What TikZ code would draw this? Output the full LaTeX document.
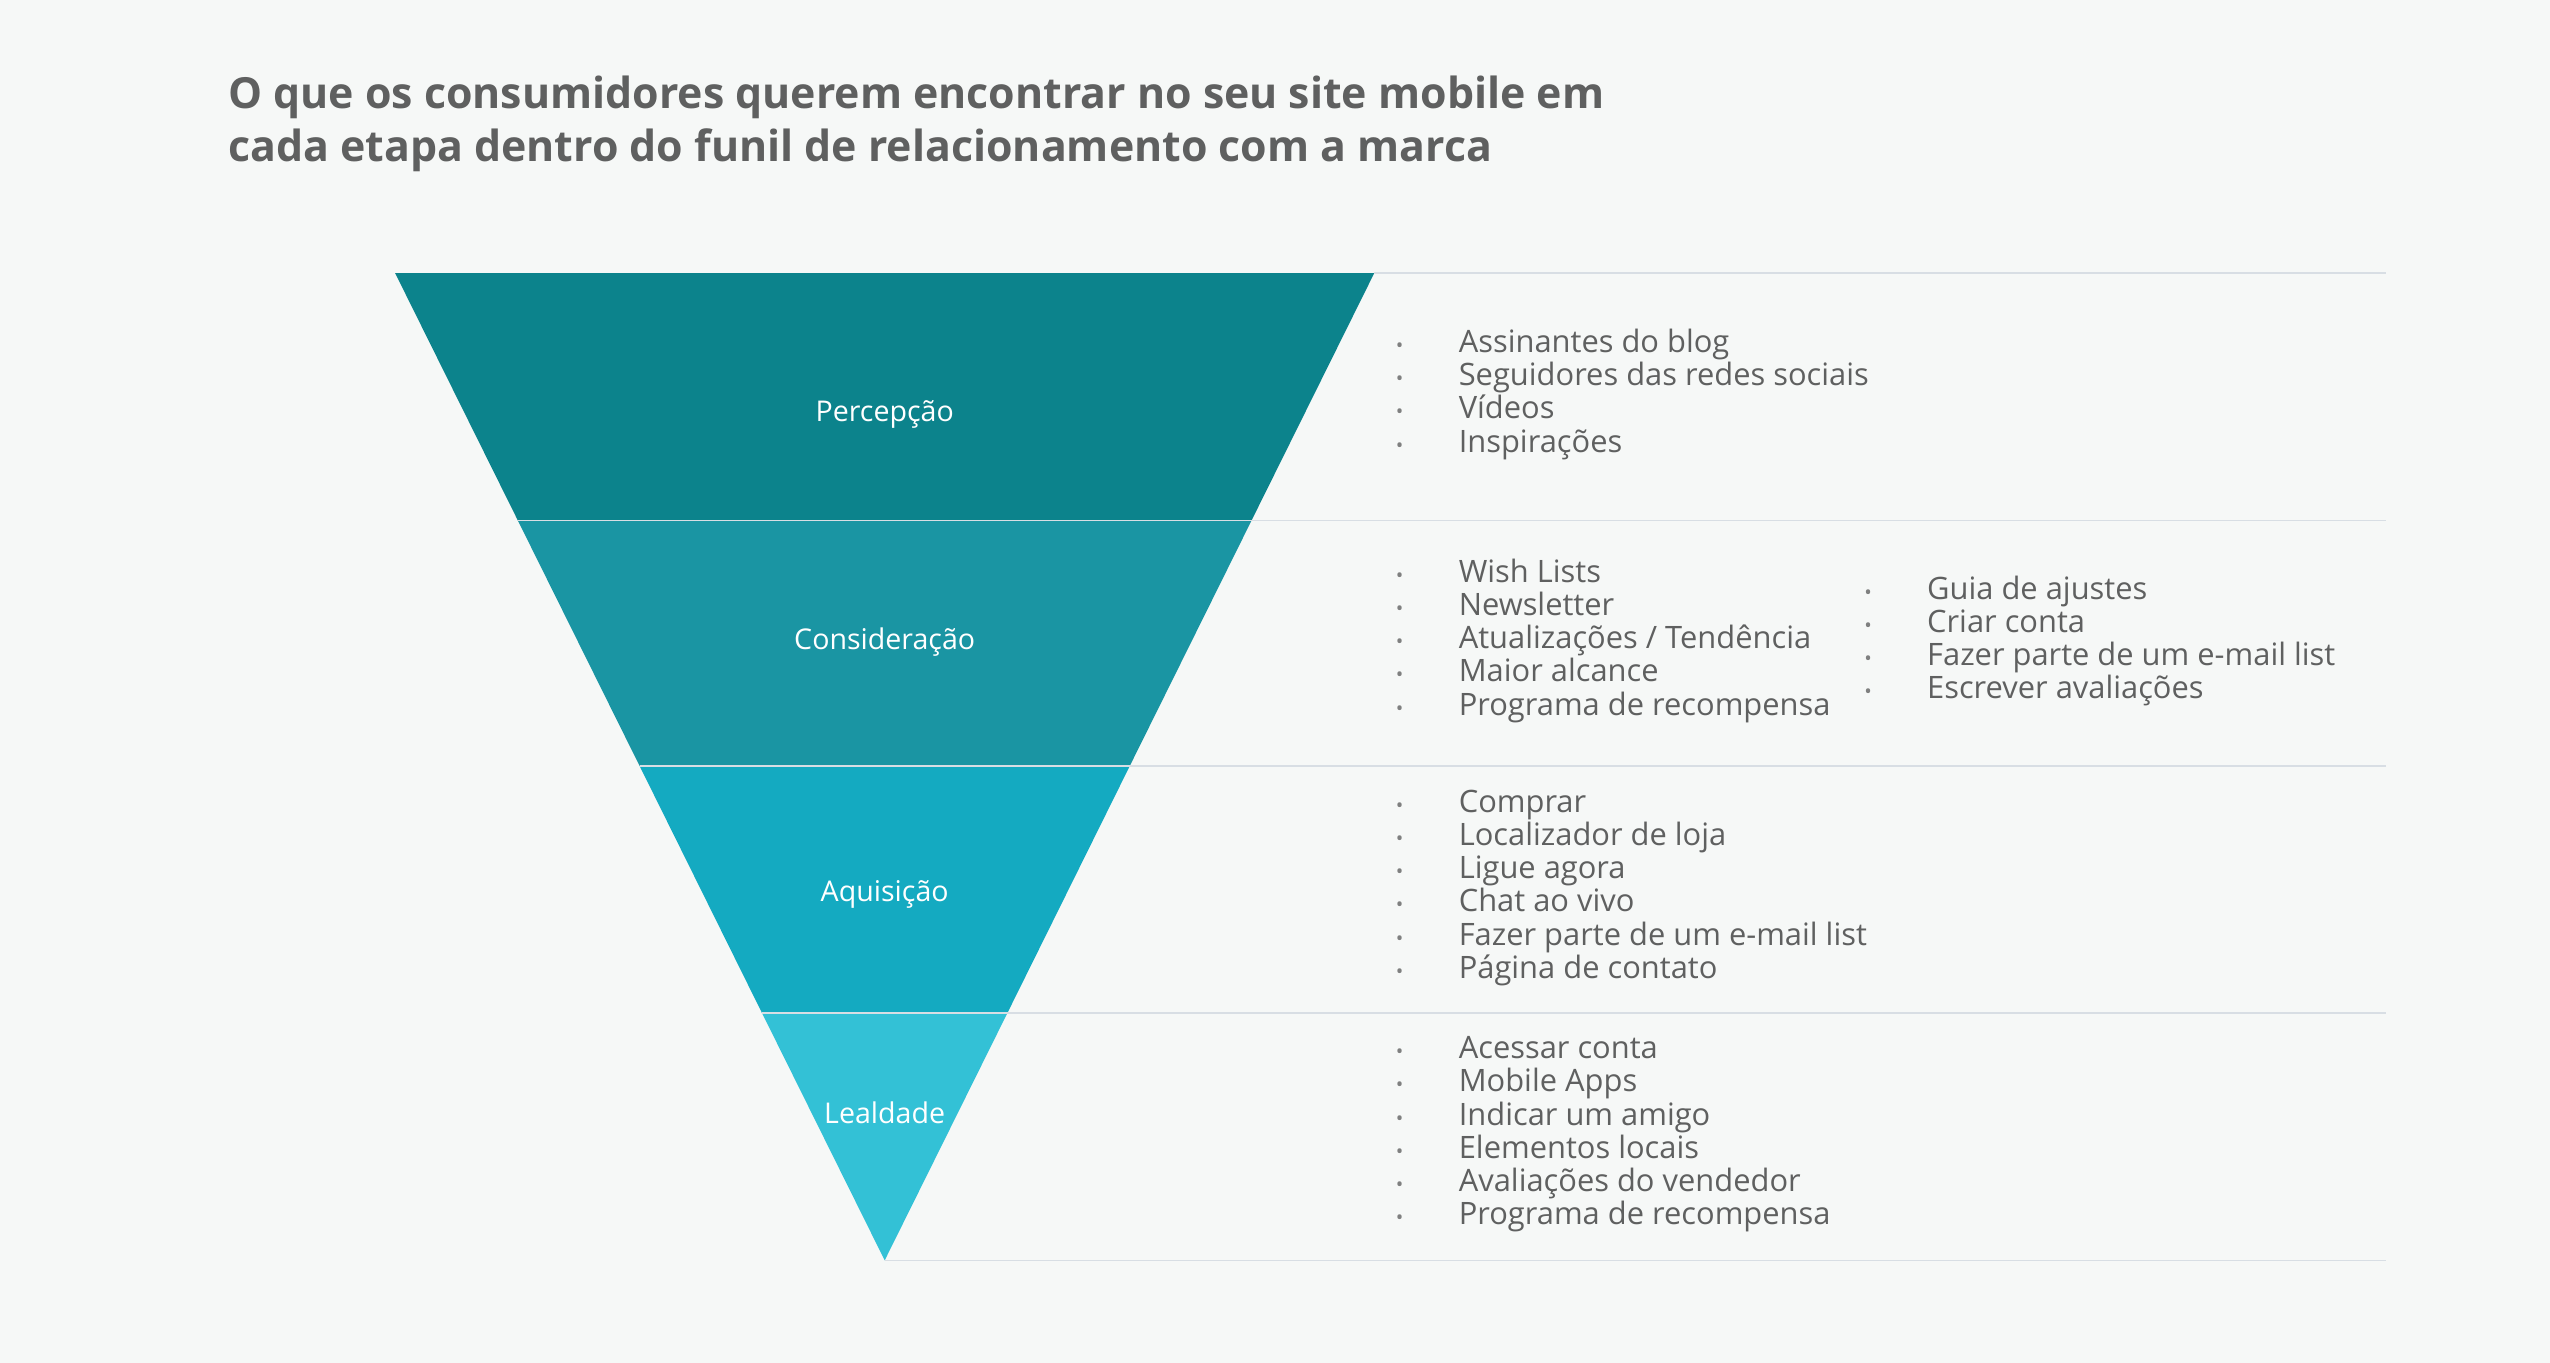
\documentclass[tikz,border=0pt]{standalone}
\usepackage{fontspec}
\setmainfont{Open Sans}
\usetikzlibrary{positioning}
\definecolor{funnel-bg}{HTML}{F6F8F7}
\definecolor{funnel-1}{HTML}{0C838C}
\definecolor{funnel-2}{HTML}{1A95A3}
\definecolor{funnel-3}{HTML}{14AAC1}
\definecolor{funnel-4}{HTML}{33C1D6}
\definecolor{funnel-text}{HTML}{5F6060}
\definecolor{funnel-rule}{HTML}{D8DEE4}
\newcommand{\itm}[1]{\makebox[22pt][l]{\textcolor{funnel-text!80}{\scriptsize\textbullet}}#1}
\tikzset{
  stage/.style={text=white, font=\fontsize{10}{12}\selectfont},
  itemlist/.style={anchor=west, align=left, text=funnel-text, inner sep=0pt,
    font=\fontsize{10.8}{11.6}\selectfont},
  rule/.style={draw=funnel-rule, line width=0.6pt}
}
\begin{document}
\begin{tikzpicture}[x=0.02cm, y=-0.02cm]
    \fill[funnel-bg] (0,0) rectangle (1568,838);
    \useasboundingbox (0,0) rectangle (1568,838);

    % titulo
    \node[anchor=west, align=left, text=funnel-text, inner sep=0pt,
      font=\fontsize{15}{18.5}\selectfont\bfseries] (title) at (140,76)
      {O que os consumidores querem encontrar no seu site mobile em\\cada etapa dentro do funil de relacionamento com a marca};

    % funil
    \fill[funnel-1] (243,168) -- (845,168) -- (769.6,320) -- (318.4,320) -- cycle;
    \fill[funnel-2] (318.4,320) -- (769.6,320) -- (694.7,471) -- (393.3,471) -- cycle;
    \fill[funnel-3] (393.3,471) -- (694.7,471) -- (619.4,623) -- (468.6,623) -- cycle;
    \fill[funnel-4] (468.6,623) -- (619.4,623) -- (544,775) -- cycle;

    % linhas
    \draw[rule] (845,168) -- (1467,168);
    \draw[rule] (318.4,320) -- (1467,320);
    \draw[rule] (393.3,471) -- (1467,471);
    \draw[rule] (468.6,623) -- (1467,623);
    \draw[rule] (544,775) -- (1467,775);

    \node[stage] (percepcao) at (544,255) {Percepção};
    \node[stage] (consideracao) at (544,395) {Consideração};
    \node[stage] (aquisicao) at (544,550) {Aquisição};
    \node[stage] (lealdade) at (544,684) {Lealdade};

    \node[itemlist] (list1) at (858,242.5) {\itm{Assinantes do blog}\\\itm{Seguidores das redes sociais}\\\itm{Vídeos}\\\itm{Inspirações}};
    \node[itemlist] (list2) at (858,394) {\itm{Wish Lists}\\\itm{Newsletter}\\\itm{Atualizações / Tendência}\\\itm{Maior alcance}\\\itm{Programa de recompensa}};
    \node[itemlist] (list2b) at (1146,394) {\itm{Guia de ajustes}\\\itm{Criar conta}\\\itm{Fazer parte de um e-mail list}\\\itm{Escrever avaliações}};
    \node[itemlist] (list3) at (858,546) {\itm{Comprar}\\\itm{Localizador de loja}\\\itm{Ligue agora}\\\itm{Chat ao vivo}\\\itm{Fazer parte de um e-mail list}\\\itm{Página de contato}};
    \node[itemlist] (list4) at (858,697.5) {\itm{Acessar conta}\\\itm{Mobile Apps}\\\itm{Indicar um amigo}\\\itm{Elementos locais}\\\itm{Avaliações do vendedor}\\\itm{Programa de recompensa}};
\end{tikzpicture}
\end{document}
